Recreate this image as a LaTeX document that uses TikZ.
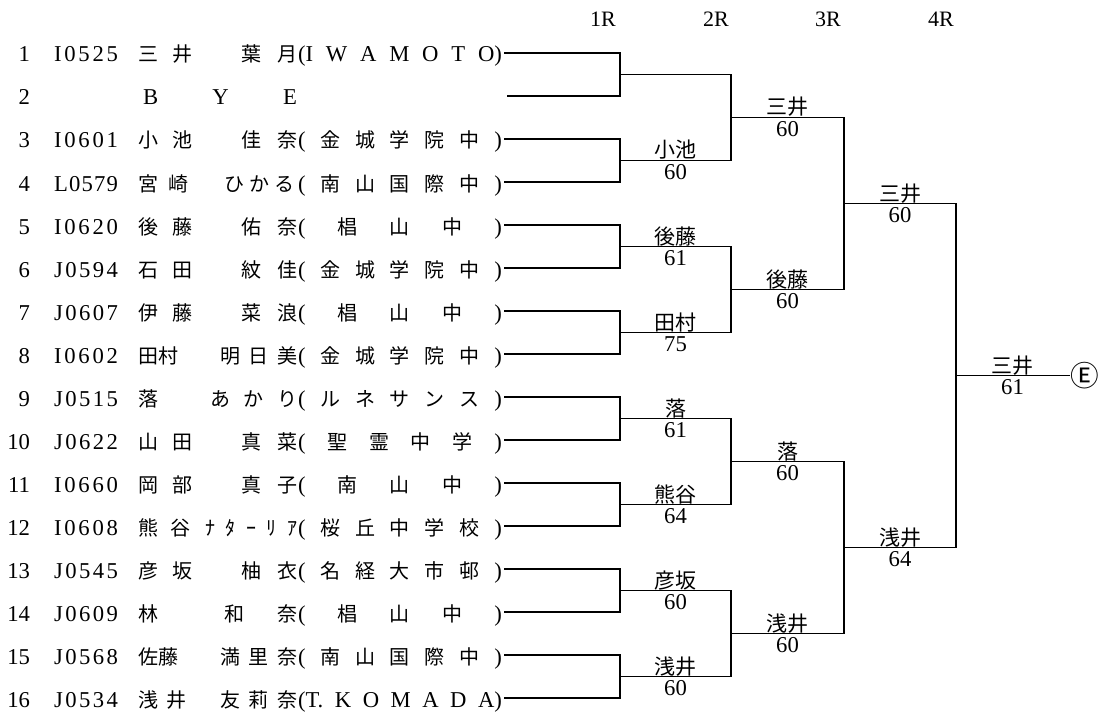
\documentclass[tikz,border=0pt]{standalone}
\usepackage{fontspec}
\setmainfont{Liberation Serif}
\newfontfamily\jp{Noto Sans CJK JP}
\newlength\PX \setlength\PX{0.75pt}
\ExplSyntaxOn
\NewDocumentCommand\spr{mm}{\makebox[#1\PX][s]{\tl_map_inline:nn{#2}{{##1}\hfill}\unskip}}
\ExplSyntaxOff
\newcommand\lt{\rmfamily\fontsize{17pt}{17pt}\selectfont}
\tikzset{
  rt/.style={inner sep=0pt, outer sep=0pt, anchor=base west, font=\lt},
  rtj/.style={rt, font=\fontsize{15pt}{15pt}\selectfont\jp},
  num/.style={rt, anchor=base east},
  lab/.style={inner sep=0pt, outer sep=0pt, anchor=base, font=\fontsize{15.75pt}{16pt}\selectfont\jp},
  sc/.style={inner sep=0pt, outer sep=0pt, anchor=base, font=\fontsize{17pt}{17pt}\selectfont},
  hdr/.style={inner sep=0pt, outer sep=0pt, anchor=base, font=\fontsize{16.5pt}{17pt}\selectfont},
  ln/.style={line width=0.9pt, line cap=rect, line join=miter}
}
\newcommand\RW[2]{%
  \node[num] (n#1) at (30,{62+43*(#1-1)}) {#1};
  \node[rt] (i#1) at (54,{62+43*(#1-1)}) {\spr{64}{#2}};}
\newcommand\NM[6]{%
  \node[rtj] (f#1) at (138,{62+43*(#1-1)}) {\spr{#2}{#3}};
  \node[rtj] (g#1) at (#4,{62+43*(#1-1)}) {\spr{#5}{#6}};}
\newcommand\SC[2]{%
  \node[rtj] (c#1) at (298,{62+43*(#1-1)}) {\spr{204}{{\lt(}#2{\lt)}}};}
\newcommand\LB[5]{%
  \node[lab] (w#1) at (#2,{#3-2.5}) {#4};
  \node[sc] (p#1) at (#2,{#3+19}) {#5};}
\begin{document}
\begin{tikzpicture}[x=0.75pt,y=-0.75pt]
\fill[white] (0,0) rectangle (1099,713);
\useasboundingbox (0,0) rectangle (1099,713);

% header
\node[hdr] (h1) at (603,27) {1R};
\node[hdr] (h2) at (716,27) {2R};
\node[hdr] (h3) at (828,27) {3R};
\node[hdr] (h4) at (941,27) {4R};

% rows
\RW{1}{I0525}\NM{1}{54}{三井}{241}{56}{葉月}
\node[rt] (c1) at (298,62) {\spr{204}{{(I}WAMOT{O)}}};
\node[num] (n2) at (30,105) {2};
\node[rt] (bye) at (143,105) {\spr{154}{BYE}};
\RW{3}{I0601}\NM{3}{54}{小池}{241}{56}{佳奈}\SC{3}{金城学院中}
\RW{4}{L0579}\NM{4}{50}{宮崎}{224}{70}{ひかる}\SC{4}{南山国際中}
\RW{5}{I0620}\NM{5}{54}{後藤}{241}{56}{佑奈}\SC{5}{椙山中}
\RW{6}{J0594}\NM{6}{54}{石田}{241}{56}{紋佳}\SC{6}{金城学院中}
\RW{7}{J0607}\NM{7}{54}{伊藤}{241}{56}{菜浪}\SC{7}{椙山中}
\RW{8}{I0602}\NM{8}{40}{田村}{220}{77}{明日美}\SC{8}{金城学院中}
\RW{9}{J0515}
\node[rtj] (f9) at (138,406) {落};
\node[rtj] (g9) at (210,406) {\spr{87}{あかり}};
\SC{9}{ルネサンス}
\RW{10}{J0622}\NM{10}{54}{山田}{241}{56}{真菜}\SC{10}{聖霊中学}
\RW{11}{I0660}\NM{11}{54}{岡部}{241}{56}{真子}\SC{11}{南山中}
\RW{12}{I0608}\NM{12}{52}{熊谷}{205}{92}{ﾅﾀｰﾘｱ}\SC{12}{桜丘中学校}
\RW{13}{J0545}\NM{13}{54}{彦坂}{241}{56}{柚衣}\SC{13}{名経大市邨}
\RW{14}{J0609}
\node[rtj] (f14) at (138,621) {林};
\node[rtj] (g14) at (224,621) {\spr{73}{和奈}};
\SC{14}{椙山中}
\RW{15}{J0568}\NM{15}{40}{佐藤}{220}{77}{満里奈}\SC{15}{南山国際中}
\RW{16}{J0534}\NM{16}{48}{浅井}{220}{77}{友莉奈}
\node[rt] (c16) at (298,707) {\spr{204}{{(T.}KOMAD{A)}}};

% coordinates
\foreach \i in {1,...,16}{\coordinate (s\i) at (505,{53+43*(\i-1)});}
\coordinate (s2) at (508,96);
\foreach \k in {1,...,8}{\coordinate (a\k) at (620,{74.5+86*(\k-1)}); \coordinate (b\k) at (731,{74.5+86*(\k-1)});}
\foreach \k in {1,...,4}{\coordinate (c\k) at (731,{117.5+172*(\k-1)}); \coordinate (d\k) at (844,{117.5+172*(\k-1)});}
\coordinate (e1) at (844,203.5); \coordinate (f1) at (956,203.5);
\coordinate (e2) at (844,547.5); \coordinate (f2) at (956,547.5);
\coordinate (g) at (956,375.5); \coordinate (h) at (1069,375.5);

% bracket
\foreach \k [evaluate=\k as \p using int(2*\k-1), evaluate=\k as \q using int(2*\k)] in {1,...,8}{
  \draw[ln] (s\p) -| (a\k) |- (s\q);
  \draw[ln] (a\k) -- (b\k);}
\foreach \k [evaluate=\k as \p using int(2*\k-1), evaluate=\k as \q using int(2*\k)] in {1,...,4}{
  \draw[ln] (b\p) -- (b\q);
  \draw[ln] (c\k) -- (d\k);}
\draw[ln] (d1) -- (d2); \draw[ln] (e1) -- (f1);
\draw[ln] (d3) -- (d4); \draw[ln] (e2) -- (f2);
\draw[ln] (f1) -- (f2); \draw[ln] (g) -- (h);
\node[inner sep=0pt, font=\fontsize{21.5pt}{22pt}\selectfont\jp] (E) at (1084.5,376) {Ⓔ};

% labels
\LB{a2}{675.5}{160.5}{小池}{60}
\LB{a3}{675.5}{246.5}{後藤}{61}
\LB{a4}{675.5}{332.5}{田村}{75}
\LB{a5}{675.5}{418.5}{落}{61}
\LB{a6}{675.5}{504.5}{熊谷}{64}
\LB{a7}{675.5}{590.5}{彦坂}{60}
\LB{a8}{675.5}{676.5}{浅井}{60}
\LB{b1}{787.5}{117.5}{三井}{60}
\LB{b2}{787.5}{289.5}{後藤}{60}
\LB{b3}{787.5}{461.5}{落}{60}
\LB{b4}{787.5}{633.5}{浅井}{60}
\LB{c1}{900}{203.5}{三井}{60}
\LB{c2}{900}{547.5}{浅井}{64}
\LB{d1}{1012.5}{375.5}{三井}{61}
\end{tikzpicture}
\end{document}
